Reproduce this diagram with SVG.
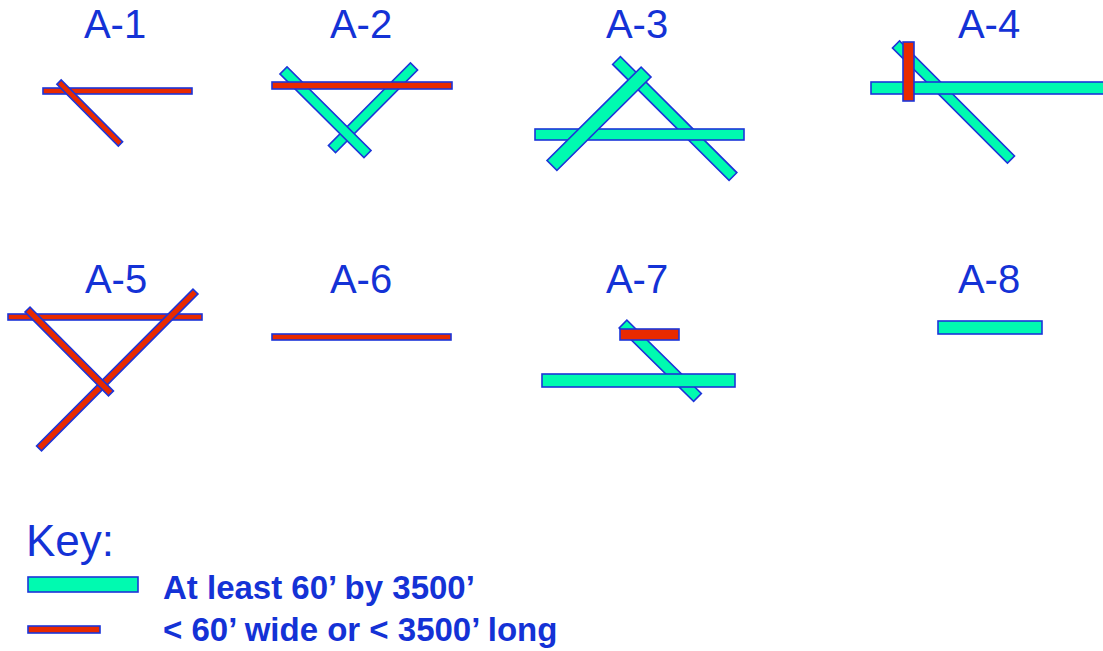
<svg xmlns="http://www.w3.org/2000/svg" width="1103" height="651" viewBox="0 0 1103 651">
<style>
.t{fill:#00FAB0;stroke:#1C35D9;stroke-width:1.6}
.r{fill:#E82A00;stroke:#1C35D9;stroke-width:1.6}
.lbl{font-family:"Liberation Sans",Arial,sans-serif;font-size:40px;fill:#1432D6;text-anchor:middle}
.key{font-family:"Liberation Sans",Arial,sans-serif;font-size:44px;fill:#1432D6}
.kt{font-family:"Liberation Sans",Arial,sans-serif;font-size:33px;font-weight:bold;fill:#1432D6}
</style>
<rect width="1103" height="651" fill="#ffffff"/>
<g id="A-1">
<text class="lbl" x="115" y="38">A-1</text>
<rect class="r" x="43" y="88" width="149" height="6"/>
<rect class="r" x="-43.6" y="-3" width="87.2" height="6" transform="translate(89.75,113) rotate(45.2)"/>
</g>
<g id="A-2">
<text class="lbl" x="361" y="38">A-2</text>
<rect class="t" x="-58.2" y="-5" width="116.4" height="10" transform="translate(373,107.75) rotate(-45.2)"/>
<rect class="t" x="-59.2" y="-5" width="118.4" height="10" transform="translate(325.5,112.25) rotate(44.8)"/>
<rect class="r" x="272" y="82" width="180" height="7"/>
</g>
<g id="A-3">
<text class="lbl" x="637" y="38">A-3</text>
<rect class="t" x="-82.2" y="-5.5" width="164.4" height="11" transform="translate(674.75,118.5) rotate(44.9)"/>
<rect class="t" x="535" y="129" width="209" height="11"/>
<rect class="t" x="-66.3" y="-7" width="132.6" height="14" transform="translate(599,118.75) rotate(-44.8)"/>
</g>
<g id="A-4">
<text class="lbl" x="989" y="38">A-4</text>
<rect class="t" x="-81.3" y="-5" width="162.6" height="10" transform="translate(953.5,102) rotate(45)"/>
<rect class="t" x="871" y="82" width="240" height="12"/>
<rect class="r" x="903" y="42" width="11" height="59"/>
</g>
<g id="A-5">
<text class="lbl" x="116" y="293">A-5</text>
<rect class="r" x="8" y="314" width="194" height="6"/>
<rect class="r" x="-110.8" y="-3.5" width="221.6" height="7" transform="translate(117.25,370) rotate(-45.1)"/>
<rect class="r" x="-59.2" y="-3.5" width="118.4" height="7" transform="translate(69.25,351.5) rotate(45.2)"/>
</g>
<g id="A-6">
<text class="lbl" x="361" y="293">A-6</text>
<rect class="r" x="272" y="334" width="179" height="6"/>
</g>
<g id="A-7">
<text class="lbl" x="637" y="293">A-7</text>
<rect class="t" x="-52.3" y="-5.5" width="104.6" height="11" transform="translate(660.25,360.75) rotate(44.6)"/>
<rect class="t" x="542" y="374" width="193" height="13"/>
<rect class="r" x="620" y="329" width="59" height="11"/>
</g>
<g id="A-8">
<text class="lbl" x="989" y="293">A-8</text>
<rect class="t" x="938" y="321" width="104" height="13"/>
</g>
<g id="key">
<text class="key" x="26" y="556">Key:</text>
<rect class="t" x="28" y="577" width="110" height="15"/>
<text class="kt" x="163" y="599">At least 60’ by 3500’</text>
<rect class="r" x="28" y="626" width="72" height="7"/>
<text class="kt" x="163" y="641">&lt; 60’ wide or &lt; 3500’ long</text>
</g>
<g id="connectors"/>
</svg>
